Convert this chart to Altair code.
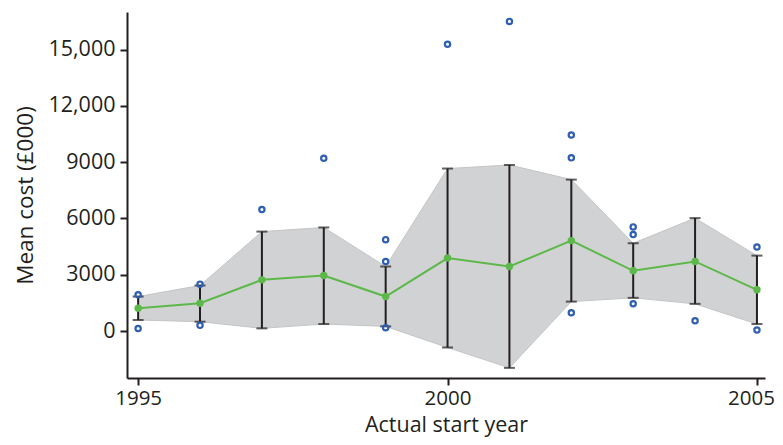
import altair as alt
import pandas as pd

years = [1995, 1996, 1997, 1998, 1999, 2000, 2001, 2002, 2003, 2004, 2005]
mean_cost = [1216, 1484, 2730, 2960, 1840, 3890, 3440, 4820, 3210, 3710, 2200]
upper = [1840, 2430, 5300, 5520, 3440, 8660, 8850, 8070, 4680, 6020, 4020]
lower = [590, 500, 145, 375, 250, -875, -1960, 1570, 1770, 1450, 375]

out_years = [1995, 1995, 1996, 1996, 1997, 1998, 1999, 1999, 1999, 2000, 2001,
             2002, 2002, 2002, 2003, 2003, 2003, 2004, 2005, 2005]
out_vals = [1930, 140, 2500, 305, 6480, 9210, 4870, 3710, 180, 15280, 16500,
            10450, 9230, 980, 5550, 5140, 1460, 550, 4480, 55]

df = pd.DataFrame({"year": years, "mean": mean_cost, "hi": upper, "lo": lower})
dfo = pd.DataFrame({"year": out_years, "val": out_vals})

FONT = "Open Sans"
INK = "#231f20"
xsc = alt.Scale(domain=[1994.82, 2005.13], nice=False, zero=False)
ysc = alt.Scale(domain=[-2500, 17000], nice=False, zero=False)

xax = alt.Axis(values=[1995, 2000, 2005], format="d", title="Actual start year",
               grid=False, domainColor=INK, domainWidth=2, tickColor=INK,
               tickWidth=2, tickSize=7, labelFont=FONT, labelFontSize=20.5,
               labelColor=INK, titleFont=FONT, titleFontSize=21.5,
               titleFontWeight="normal", titleColor=INK, labelPadding=3,
               titlePadding=6,
               labelOffset={"condition": {"test": "datum.value == 2005", "value": -6},
                            "value": 0})
yax = alt.Axis(values=[0, 3000, 6000, 9000, 12000, 15000],
               labelExpr="datum.value >= 10000 ? format(datum.value, ',') : format(datum.value, 'd')",
               title="Mean cost (£000)", grid=False, domainColor=INK,
               domainWidth=2, tickColor=INK, tickWidth=2, tickSize=7,
               labelFont=FONT, labelFontSize=21.5, labelColor=INK,
               titleFont=FONT, titleFontSize=22.5, titleFontWeight="normal",
               titleColor=INK, labelPadding=5, titlePadding=10)

base = alt.Chart(df)

band = base.mark_area(color="#d1d2d4", opacity=1, stroke="#c4c5c7", strokeWidth=1).encode(
    x=alt.X("year:Q", scale=xsc, axis=xax),
    y=alt.Y("hi:Q", scale=ysc, axis=yax),
    y2="lo:Q",
)
rules = base.mark_rule(color=INK, strokeWidth=2).encode(
    x="year:Q", y="hi:Q", y2="lo:Q")
cap_hi = base.mark_tick(color=INK, orient="horizontal", size=11, thickness=2).encode(
    x="year:Q", y="hi:Q")
cap_lo = base.mark_tick(color=INK, orient="horizontal", size=11, thickness=2).encode(
    x="year:Q", y="lo:Q")
line = base.mark_line(color="#5db84a", strokeWidth=2).encode(x="year:Q", y="mean:Q")
pts = base.mark_circle(color="#5db84a", size=55, opacity=1).encode(x="year:Q", y="mean:Q")
outl = alt.Chart(dfo).mark_point(shape="circle", filled=False, color="#2f5fb3",
                                 size=28, strokeWidth=2.2, opacity=1).encode(
    x="year:Q", y="val:Q")

chart = alt.layer(band, rules, cap_hi, cap_lo, line, pts, outl).properties(
    width=638, height=366,
    autosize=alt.AutoSizeParams(type="none"),
    padding={"left": 119, "top": 4, "right": 10, "bottom": 60},
).configure_view(stroke=None)

chart.save("out.html", embed_options={"renderer": "svg", "actions": False})
